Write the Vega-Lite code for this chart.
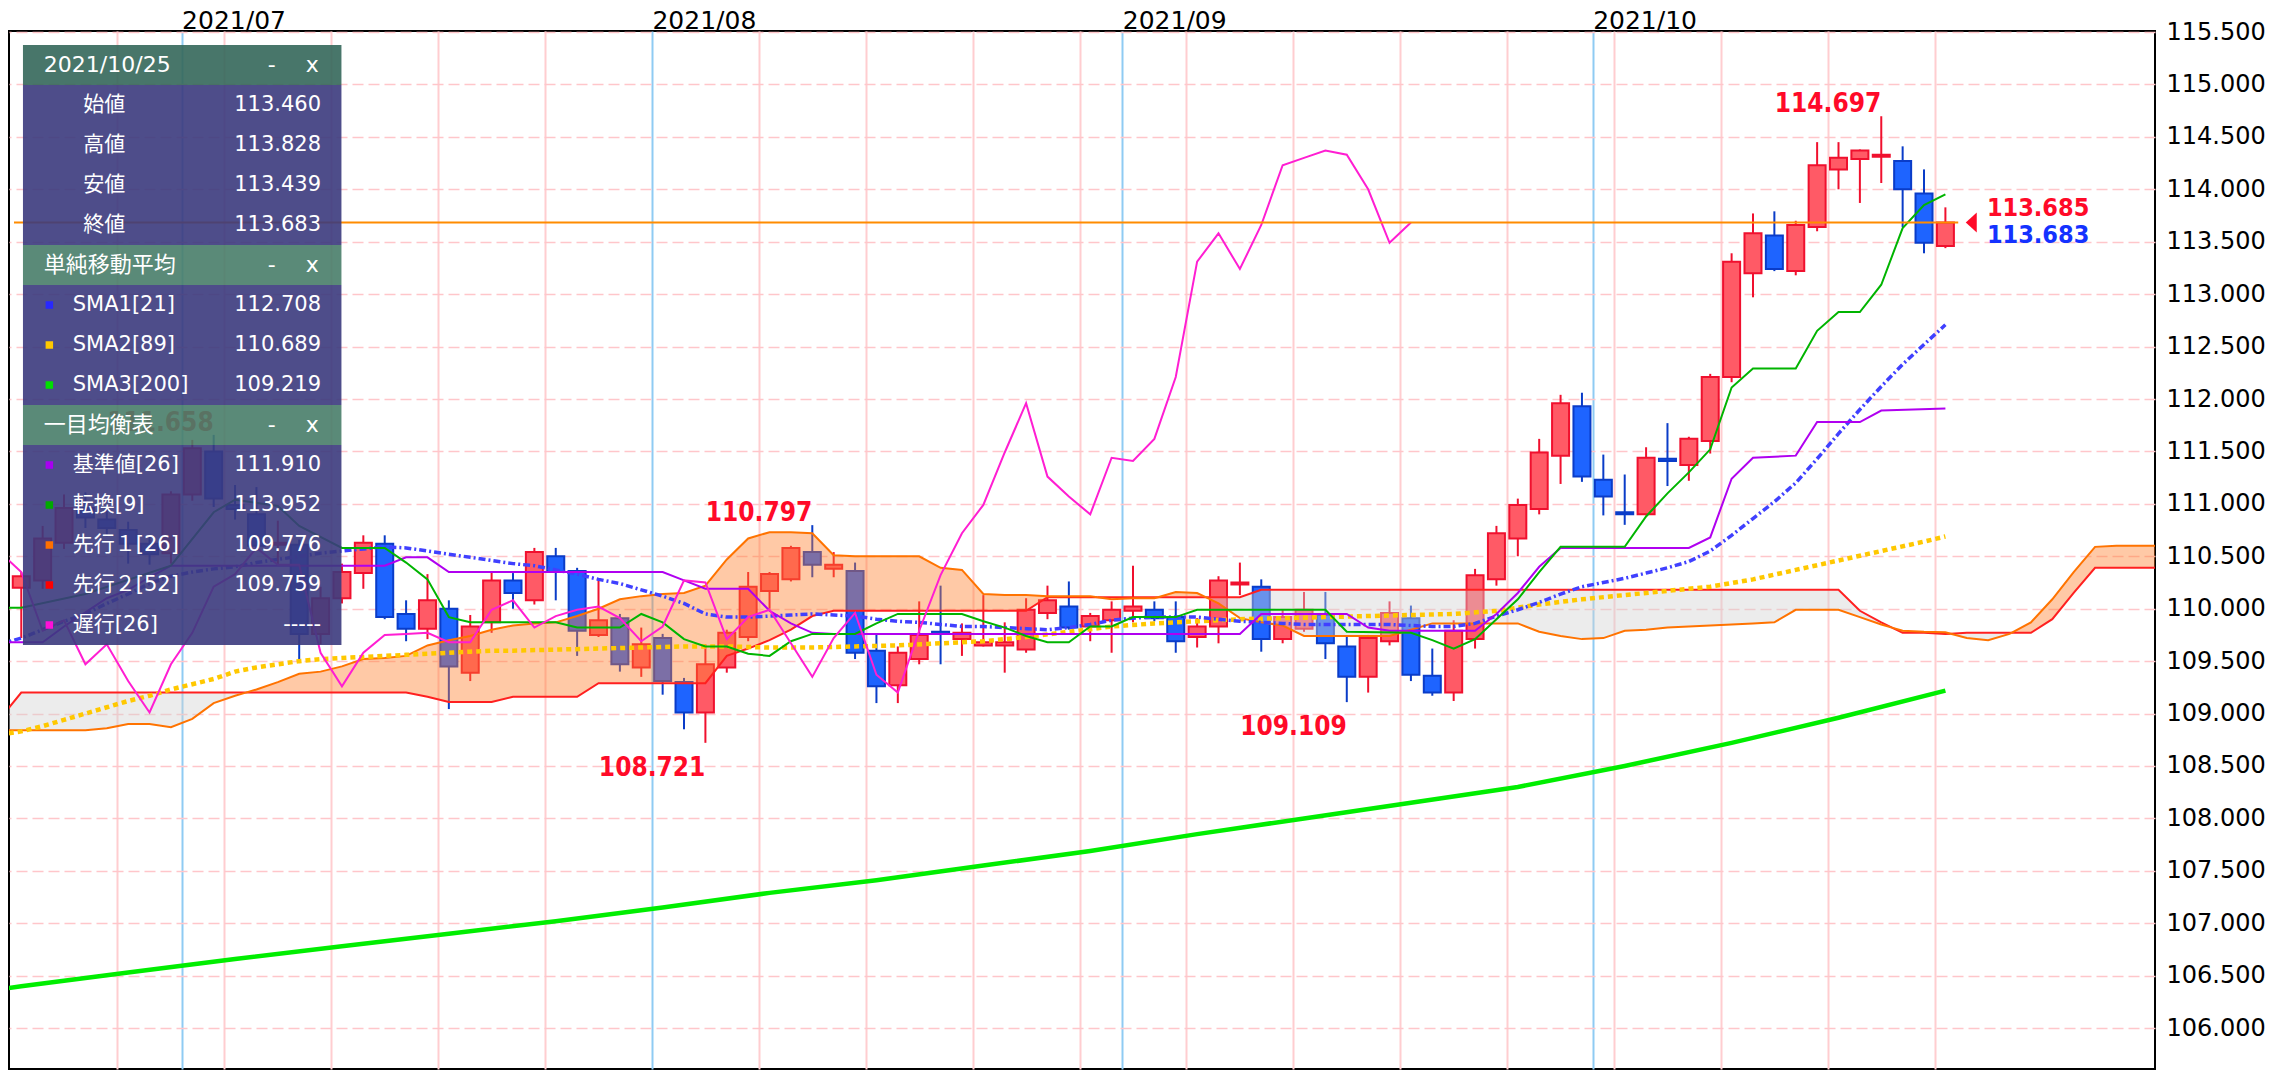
{
  "$schema": "https://vega.github.io/schema/vega-lite/v6.json",
  "width": 2146,
  "height": 1038,
  "autosize": {"type": "none"},
  "padding": {"left": 9, "top": 31, "right": 133, "bottom": 11},
  "background": "#ffffff",
  "config": {
    "view": {"stroke": "#000000", "strokeWidth": 2},
    "font": "DejaVu Sans"
  },
  "datasets": {
    "candles": [
      {"d":"2021-06-21","i":-5,"o":110.20,"h":110.35,"l":109.72,"c":110.31},
      {"d":"2021-06-22","i":-4,"o":110.27,"h":110.79,"l":110.19,"c":110.67},
      {"d":"2021-06-23","i":-3,"o":110.63,"h":111.09,"l":110.57,"c":110.96},
      {"d":"2021-06-24","i":-2,"o":110.96,"h":111.11,"l":110.77,"c":110.87},
      {"d":"2021-06-25","i":-1,"o":110.85,"h":110.96,"l":110.69,"c":110.77},
      {"d":"2021-06-28","i":0,"o":110.75,"h":110.83,"l":110.43,"c":110.62},
      {"d":"2021-06-29","i":1,"o":110.62,"h":110.70,"l":110.42,"c":110.52},
      {"d":"2021-06-30","i":2,"o":110.53,"h":111.12,"l":110.43,"c":111.09},
      {"d":"2021-07-01","i":3,"o":111.09,"h":111.61,"l":111.03,"c":111.53},
      {"d":"2021-07-02","i":4,"o":111.50,"h":111.658,"l":110.97,"c":111.05},
      {"d":"2021-07-05","i":5,"o":110.99,"h":111.18,"l":110.85,"c":110.95},
      {"d":"2021-07-06","i":6,"o":110.90,"h":111.16,"l":110.55,"c":110.60},
      {"d":"2021-07-07","i":7,"o":110.61,"h":110.84,"l":110.42,"c":110.63},
      {"d":"2021-07-08","i":8,"o":110.61,"h":110.66,"l":109.52,"c":109.76},
      {"d":"2021-07-09","i":9,"o":109.76,"h":110.21,"l":109.66,"c":110.10},
      {"d":"2021-07-12","i":10,"o":110.10,"h":110.43,"l":110.05,"c":110.35},
      {"d":"2021-07-13","i":11,"o":110.34,"h":110.70,"l":110.19,"c":110.63},
      {"d":"2021-07-14","i":12,"o":110.62,"h":110.70,"l":109.90,"c":109.92},
      {"d":"2021-07-15","i":13,"o":109.95,"h":110.08,"l":109.69,"c":109.81},
      {"d":"2021-07-16","i":14,"o":109.81,"h":110.33,"l":109.71,"c":110.08},
      {"d":"2021-07-19","i":15,"o":110.00,"h":110.08,"l":109.043,"c":109.45},
      {"d":"2021-07-20","i":16,"o":109.39,"h":109.94,"l":109.31,"c":109.83},
      {"d":"2021-07-21","i":17,"o":109.87,"h":110.36,"l":109.77,"c":110.27},
      {"d":"2021-07-22","i":18,"o":110.27,"h":110.34,"l":110.00,"c":110.15},
      {"d":"2021-07-23","i":19,"o":110.08,"h":110.58,"l":110.04,"c":110.54},
      {"d":"2021-07-26","i":20,"o":110.50,"h":110.58,"l":110.08,"c":110.35},
      {"d":"2021-07-27","i":21,"o":110.36,"h":110.39,"l":109.55,"c":109.79},
      {"d":"2021-07-28","i":22,"o":109.75,"h":110.28,"l":109.73,"c":109.89},
      {"d":"2021-07-29","i":23,"o":109.91,"h":109.95,"l":109.40,"c":109.47},
      {"d":"2021-07-30","i":24,"o":109.44,"h":109.82,"l":109.35,"c":109.66},
      {"d":"2021-08-02","i":25,"o":109.72,"h":109.76,"l":109.18,"c":109.31},
      {"d":"2021-08-03","i":26,"o":109.30,"h":109.34,"l":108.85,"c":109.01},
      {"d":"2021-08-04","i":27,"o":109.01,"h":109.66,"l":108.721,"c":109.47},
      {"d":"2021-08-05","i":28,"o":109.44,"h":109.80,"l":109.39,"c":109.77},
      {"d":"2021-08-06","i":29,"o":109.73,"h":110.35,"l":109.69,"c":110.21},
      {"d":"2021-08-09","i":30,"o":110.17,"h":110.35,"l":110.00,"c":110.33},
      {"d":"2021-08-10","i":31,"o":110.28,"h":110.60,"l":110.26,"c":110.58},
      {"d":"2021-08-11","i":32,"o":110.54,"h":110.797,"l":110.30,"c":110.42},
      {"d":"2021-08-12","i":33,"o":110.38,"h":110.54,"l":110.30,"c":110.42},
      {"d":"2021-08-13","i":34,"o":110.36,"h":110.44,"l":109.52,"c":109.58},
      {"d":"2021-08-16","i":35,"o":109.60,"h":109.75,"l":109.10,"c":109.26},
      {"d":"2021-08-17","i":36,"o":109.27,"h":109.64,"l":109.10,"c":109.58},
      {"d":"2021-08-18","i":37,"o":109.52,"h":110.07,"l":109.47,"c":109.75},
      {"d":"2021-08-19","i":38,"o":109.78,"h":110.22,"l":109.47,"c":109.76},
      {"d":"2021-08-20","i":39,"o":109.71,"h":109.86,"l":109.55,"c":109.77},
      {"d":"2021-08-23","i":40,"o":109.65,"h":110.13,"l":109.64,"c":109.68},
      {"d":"2021-08-24","i":41,"o":109.65,"h":109.87,"l":109.39,"c":109.68},
      {"d":"2021-08-25","i":42,"o":109.61,"h":110.10,"l":109.58,"c":109.99},
      {"d":"2021-08-26","i":43,"o":109.96,"h":110.22,"l":109.90,"c":110.08},
      {"d":"2021-08-27","i":44,"o":110.02,"h":110.26,"l":109.80,"c":109.82},
      {"d":"2021-08-30","i":45,"o":109.83,"h":109.96,"l":109.69,"c":109.93},
      {"d":"2021-08-31","i":46,"o":109.89,"h":110.07,"l":109.58,"c":109.99},
      {"d":"2021-09-01","i":47,"o":109.98,"h":110.41,"l":109.87,"c":110.02},
      {"d":"2021-09-02","i":48,"o":109.99,"h":110.07,"l":109.88,"c":109.91},
      {"d":"2021-09-03","i":49,"o":109.92,"h":110.07,"l":109.58,"c":109.69},
      {"d":"2021-09-06","i":50,"o":109.73,"h":109.91,"l":109.63,"c":109.83},
      {"d":"2021-09-07","i":51,"o":109.83,"h":110.31,"l":109.67,"c":110.27},
      {"d":"2021-09-08","i":52,"o":110.23,"h":110.44,"l":110.13,"c":110.25},
      {"d":"2021-09-09","i":53,"o":110.21,"h":110.28,"l":109.59,"c":109.71},
      {"d":"2021-09-10","i":54,"o":109.71,"h":109.99,"l":109.67,"c":109.92},
      {"d":"2021-09-13","i":55,"o":109.81,"h":110.16,"l":109.78,"c":109.99},
      {"d":"2021-09-14","i":56,"o":109.94,"h":110.16,"l":109.52,"c":109.67},
      {"d":"2021-09-15","i":57,"o":109.64,"h":109.74,"l":109.109,"c":109.35},
      {"d":"2021-09-16","i":58,"o":109.35,"h":109.75,"l":109.20,"c":109.72},
      {"d":"2021-09-17","i":59,"o":109.69,"h":110.07,"l":109.65,"c":109.96},
      {"d":"2021-09-20","i":60,"o":109.91,"h":110.03,"l":109.31,"c":109.37},
      {"d":"2021-09-21","i":61,"o":109.36,"h":109.62,"l":109.17,"c":109.20},
      {"d":"2021-09-22","i":62,"o":109.20,"h":109.89,"l":109.12,"c":109.79},
      {"d":"2021-09-23","i":63,"o":109.71,"h":110.38,"l":109.62,"c":110.32},
      {"d":"2021-09-24","i":64,"o":110.28,"h":110.79,"l":110.22,"c":110.72},
      {"d":"2021-09-27","i":65,"o":110.67,"h":111.05,"l":110.50,"c":110.99},
      {"d":"2021-09-28","i":66,"o":110.95,"h":111.62,"l":110.90,"c":111.49},
      {"d":"2021-09-29","i":67,"o":111.46,"h":112.04,"l":111.19,"c":111.96},
      {"d":"2021-09-30","i":68,"o":111.93,"h":112.06,"l":111.21,"c":111.26},
      {"d":"2021-10-01","i":69,"o":111.23,"h":111.47,"l":110.89,"c":111.07},
      {"d":"2021-10-04","i":70,"o":110.92,"h":111.28,"l":110.80,"c":110.90},
      {"d":"2021-10-05","i":71,"o":110.90,"h":111.54,"l":110.89,"c":111.44},
      {"d":"2021-10-06","i":72,"o":111.43,"h":111.77,"l":111.17,"c":111.41},
      {"d":"2021-10-07","i":73,"o":111.37,"h":111.64,"l":111.22,"c":111.62},
      {"d":"2021-10-08","i":74,"o":111.60,"h":112.24,"l":111.48,"c":112.21},
      {"d":"2021-10-11","i":75,"o":112.21,"h":113.39,"l":112.16,"c":113.31},
      {"d":"2021-10-12","i":76,"o":113.20,"h":113.77,"l":112.97,"c":113.58},
      {"d":"2021-10-13","i":77,"o":113.56,"h":113.79,"l":113.22,"c":113.24},
      {"d":"2021-10-14","i":78,"o":113.22,"h":113.70,"l":113.18,"c":113.66},
      {"d":"2021-10-15","i":79,"o":113.64,"h":114.45,"l":113.60,"c":114.23},
      {"d":"2021-10-18","i":80,"o":114.19,"h":114.45,"l":114.00,"c":114.30},
      {"d":"2021-10-19","i":81,"o":114.29,"h":114.38,"l":113.87,"c":114.37},
      {"d":"2021-10-20","i":82,"o":114.31,"h":114.697,"l":114.06,"c":114.33},
      {"d":"2021-10-21","i":83,"o":114.27,"h":114.41,"l":113.64,"c":114.00},
      {"d":"2021-10-22","i":84,"o":113.96,"h":114.19,"l":113.39,"c":113.49},
      {"d":"2021-10-25","i":85,"o":113.46,"h":113.828,"l":113.439,"c":113.683}
    ],
    "kumo": [
      {"i":-6,"a":108.84,"b":108.95,"seg":"g1","kind":"down"},
      {"i":-5,"a":108.84,"b":109.20,"seg":"g1","kind":"down"},
      {"i":-4,"a":108.84,"b":109.20,"seg":"g1","kind":"down"},
      {"i":-3,"a":108.84,"b":109.20,"seg":"g1","kind":"down"},
      {"i":-2,"a":108.84,"b":109.20,"seg":"g1","kind":"down"},
      {"i":-1,"a":108.86,"b":109.20,"seg":"g1","kind":"down"},
      {"i":0,"a":108.90,"b":109.20,"seg":"g1","kind":"down"},
      {"i":1,"a":108.90,"b":109.20,"seg":"g1","kind":"down"},
      {"i":2,"a":108.87,"b":109.20,"seg":"g1","kind":"down"},
      {"i":3,"a":108.95,"b":109.20,"seg":"g1","kind":"down"},
      {"i":4,"a":109.10,"b":109.20,"seg":"g1","kind":"down"},
      {"i":5,"a":109.17,"b":109.20,"seg":"g1","kind":"down"},
      {"i":5.5,"a":109.20,"b":109.20,"seg":"g1","kind":"down"},
      {"i":5.5,"a":109.20,"b":109.20,"seg":"o1","kind":"up"},
      {"i":6,"a":109.23,"b":109.20,"seg":"o1","kind":"up"},
      {"i":7,"a":109.30,"b":109.20,"seg":"o1","kind":"up"},
      {"i":8,"a":109.38,"b":109.20,"seg":"o1","kind":"up"},
      {"i":9,"a":109.40,"b":109.20,"seg":"o1","kind":"up"},
      {"i":10,"a":109.45,"b":109.20,"seg":"o1","kind":"up"},
      {"i":11,"a":109.52,"b":109.20,"seg":"o1","kind":"up"},
      {"i":12,"a":109.53,"b":109.20,"seg":"o1","kind":"up"},
      {"i":13,"a":109.55,"b":109.20,"seg":"o1","kind":"up"},
      {"i":14,"a":109.65,"b":109.16,"seg":"o1","kind":"up"},
      {"i":15,"a":109.70,"b":109.11,"seg":"o1","kind":"up"},
      {"i":16,"a":109.74,"b":109.11,"seg":"o1","kind":"up"},
      {"i":17,"a":109.80,"b":109.11,"seg":"o1","kind":"up"},
      {"i":18,"a":109.84,"b":109.16,"seg":"o1","kind":"up"},
      {"i":19,"a":109.86,"b":109.16,"seg":"o1","kind":"up"},
      {"i":20,"a":109.87,"b":109.16,"seg":"o1","kind":"up"},
      {"i":21,"a":109.93,"b":109.16,"seg":"o1","kind":"up"},
      {"i":22,"a":110.00,"b":109.29,"seg":"o1","kind":"up"},
      {"i":23,"a":110.09,"b":109.29,"seg":"o1","kind":"up"},
      {"i":24,"a":110.12,"b":109.29,"seg":"o1","kind":"up"},
      {"i":25,"a":110.14,"b":109.29,"seg":"o1","kind":"up"},
      {"i":26,"a":110.15,"b":109.29,"seg":"o1","kind":"up"},
      {"i":27,"a":110.22,"b":109.29,"seg":"o1","kind":"up"},
      {"i":28,"a":110.47,"b":109.55,"seg":"o1","kind":"up"},
      {"i":29,"a":110.67,"b":109.62,"seg":"o1","kind":"up"},
      {"i":30,"a":110.73,"b":109.70,"seg":"o1","kind":"up"},
      {"i":31,"a":110.73,"b":109.80,"seg":"o1","kind":"up"},
      {"i":32,"a":110.72,"b":109.93,"seg":"o1","kind":"up"},
      {"i":33,"a":110.51,"b":109.98,"seg":"o1","kind":"up"},
      {"i":34,"a":110.50,"b":109.98,"seg":"o1","kind":"up"},
      {"i":35,"a":110.50,"b":109.98,"seg":"o1","kind":"up"},
      {"i":36,"a":110.50,"b":109.98,"seg":"o1","kind":"up"},
      {"i":37,"a":110.50,"b":109.98,"seg":"o1","kind":"up"},
      {"i":38,"a":110.39,"b":109.98,"seg":"o1","kind":"up"},
      {"i":39,"a":110.37,"b":109.98,"seg":"o1","kind":"up"},
      {"i":40,"a":110.14,"b":109.98,"seg":"o1","kind":"up"},
      {"i":41,"a":110.13,"b":109.98,"seg":"o1","kind":"up"},
      {"i":42,"a":110.13,"b":109.98,"seg":"o1","kind":"up"},
      {"i":43,"a":110.12,"b":110.11,"seg":"o1","kind":"up"},
      {"i":44,"a":110.12,"b":110.11,"seg":"o1","kind":"up"},
      {"i":45,"a":110.12,"b":110.11,"seg":"o1","kind":"up"},
      {"i":45.33,"a":110.11,"b":110.11,"seg":"o1","kind":"up"},
      {"i":45.33,"a":110.11,"b":110.11,"seg":"g2","kind":"down"},
      {"i":46,"a":110.09,"b":110.11,"seg":"g2","kind":"down"},
      {"i":47,"a":110.10,"b":110.11,"seg":"g2","kind":"down"},
      {"i":48,"a":110.10,"b":110.11,"seg":"g2","kind":"down"},
      {"i":48.17,"a":110.11,"b":110.11,"seg":"g2","kind":"down"},
      {"i":48.17,"a":110.11,"b":110.11,"seg":"o2","kind":"up"},
      {"i":49,"a":110.16,"b":110.11,"seg":"o2","kind":"up"},
      {"i":50,"a":110.15,"b":110.11,"seg":"o2","kind":"up"},
      {"i":50.4,"a":110.11,"b":110.11,"seg":"o2","kind":"up"},
      {"i":50.4,"a":110.11,"b":110.11,"seg":"g3","kind":"down"},
      {"i":51,"a":110.05,"b":110.11,"seg":"g3","kind":"down"},
      {"i":52,"a":109.91,"b":110.11,"seg":"g3","kind":"down"},
      {"i":53,"a":109.87,"b":110.18,"seg":"g3","kind":"down"},
      {"i":54,"a":109.84,"b":110.18,"seg":"g3","kind":"down"},
      {"i":55,"a":109.74,"b":110.18,"seg":"g3","kind":"down"},
      {"i":56,"a":109.74,"b":110.18,"seg":"g3","kind":"down"},
      {"i":57,"a":109.74,"b":110.18,"seg":"g3","kind":"down"},
      {"i":58,"a":109.74,"b":110.18,"seg":"g3","kind":"down"},
      {"i":59,"a":109.74,"b":110.18,"seg":"g3","kind":"down"},
      {"i":60,"a":109.80,"b":110.18,"seg":"g3","kind":"down"},
      {"i":61,"a":109.86,"b":110.18,"seg":"g3","kind":"down"},
      {"i":62,"a":109.86,"b":110.18,"seg":"g3","kind":"down"},
      {"i":63,"a":109.86,"b":110.18,"seg":"g3","kind":"down"},
      {"i":64,"a":109.86,"b":110.18,"seg":"g3","kind":"down"},
      {"i":65,"a":109.86,"b":110.18,"seg":"g3","kind":"down"},
      {"i":66,"a":109.78,"b":110.18,"seg":"g3","kind":"down"},
      {"i":67,"a":109.74,"b":110.18,"seg":"g3","kind":"down"},
      {"i":68,"a":109.71,"b":110.18,"seg":"g3","kind":"down"},
      {"i":69,"a":109.72,"b":110.18,"seg":"g3","kind":"down"},
      {"i":70,"a":109.79,"b":110.18,"seg":"g3","kind":"down"},
      {"i":71,"a":109.80,"b":110.18,"seg":"g3","kind":"down"},
      {"i":72,"a":109.82,"b":110.18,"seg":"g3","kind":"down"},
      {"i":73,"a":109.83,"b":110.18,"seg":"g3","kind":"down"},
      {"i":74,"a":109.84,"b":110.18,"seg":"g3","kind":"down"},
      {"i":75,"a":109.85,"b":110.18,"seg":"g3","kind":"down"},
      {"i":76,"a":109.86,"b":110.18,"seg":"g3","kind":"down"},
      {"i":77,"a":109.87,"b":110.18,"seg":"g3","kind":"down"},
      {"i":78,"a":109.99,"b":110.18,"seg":"g3","kind":"down"},
      {"i":79,"a":109.99,"b":110.18,"seg":"g3","kind":"down"},
      {"i":80,"a":109.99,"b":110.18,"seg":"g3","kind":"down"},
      {"i":81,"a":109.92,"b":109.98,"seg":"g3","kind":"down"},
      {"i":82,"a":109.85,"b":109.87,"seg":"g3","kind":"down"},
      {"i":82.5,"a":109.82,"b":109.82,"seg":"g3","kind":"down"},
      {"i":82.5,"a":109.82,"b":109.82,"seg":"o3","kind":"up"},
      {"i":83,"a":109.79,"b":109.77,"seg":"o3","kind":"up"},
      {"i":84,"a":109.78,"b":109.77,"seg":"o3","kind":"up"},
      {"i":85,"a":109.776,"b":109.759,"seg":"o3","kind":"up"},
      {"i":85.25,"a":109.762,"b":109.762,"seg":"o3","kind":"up"},
      {"i":85.25,"a":109.762,"b":109.762,"seg":"g4","kind":"down"},
      {"i":86,"a":109.72,"b":109.77,"seg":"g4","kind":"down"},
      {"i":87,"a":109.70,"b":109.77,"seg":"g4","kind":"down"},
      {"i":88,"a":109.76,"b":109.77,"seg":"g4","kind":"down"},
      {"i":88.09,"a":109.77,"b":109.77,"seg":"g4","kind":"down"},
      {"i":88.09,"a":109.77,"b":109.77,"seg":"o4","kind":"up"},
      {"i":89,"a":109.87,"b":109.77,"seg":"o4","kind":"up"},
      {"i":90,"a":110.09,"b":109.90,"seg":"o4","kind":"up"},
      {"i":91,"a":110.35,"b":110.15,"seg":"o4","kind":"up"},
      {"i":92,"a":110.59,"b":110.39,"seg":"o4","kind":"up"},
      {"i":93,"a":110.60,"b":110.39,"seg":"o4","kind":"up"},
      {"i":94,"a":110.60,"b":110.39,"seg":"o4","kind":"up"},
      {"i":95,"a":110.60,"b":110.39,"seg":"o4","kind":"up"}
    ],
    "sma1": [
      {"i":-6,"v":109.66},{"i":-5,"v":109.72},{"i":-4,"v":109.80},{"i":-3,"v":109.88},{"i":-2,"v":109.95},
      {"i":-1,"v":110.05},{"i":0,"v":110.14},{"i":1,"v":110.24},{"i":2,"v":110.31},{"i":3,"v":110.35},
      {"i":4,"v":110.38},{"i":5,"v":110.40},{"i":6,"v":110.44},{"i":7,"v":110.47},{"i":8,"v":110.50},
      {"i":9,"v":110.53},{"i":10,"v":110.55},{"i":11,"v":110.57},{"i":12,"v":110.59},{"i":13,"v":110.58},
      {"i":14,"v":110.55},{"i":15,"v":110.52},{"i":16,"v":110.49},{"i":17,"v":110.46},{"i":18,"v":110.43},
      {"i":19,"v":110.41},{"i":20,"v":110.37},{"i":21,"v":110.33},{"i":22,"v":110.28},{"i":23,"v":110.24},
      {"i":24,"v":110.18},{"i":25,"v":110.12},{"i":26,"v":110.05},{"i":27,"v":109.95},{"i":28,"v":109.92},
      {"i":29,"v":109.92},{"i":30,"v":109.93},{"i":31,"v":109.94},{"i":32,"v":109.95},{"i":33,"v":109.94},
      {"i":34,"v":109.93},{"i":35,"v":109.90},{"i":36,"v":109.88},{"i":37,"v":109.87},{"i":38,"v":109.85},
      {"i":39,"v":109.83},{"i":40,"v":109.83},{"i":41,"v":109.82},{"i":42,"v":109.81},{"i":43,"v":109.80},
      {"i":44,"v":109.82},{"i":45,"v":109.85},{"i":46,"v":109.89},{"i":47,"v":109.91},{"i":48,"v":109.92},
      {"i":49,"v":109.92},{"i":50,"v":109.92},{"i":51,"v":109.90},{"i":52,"v":109.88},{"i":53,"v":109.87},
      {"i":54,"v":109.86},{"i":55,"v":109.85},{"i":56,"v":109.85},{"i":57,"v":109.85},{"i":58,"v":109.85},
      {"i":59,"v":109.85},{"i":60,"v":109.84},{"i":61,"v":109.83},{"i":62,"v":109.83},{"i":63,"v":109.86},
      {"i":64,"v":109.93},{"i":65,"v":109.99},{"i":66,"v":110.06},{"i":67,"v":110.14},{"i":68,"v":110.21},
      {"i":69,"v":110.25},{"i":70,"v":110.29},{"i":71,"v":110.34},{"i":72,"v":110.39},{"i":73,"v":110.45},
      {"i":74,"v":110.55},{"i":75,"v":110.70},{"i":76,"v":110.86},{"i":77,"v":111.02},{"i":78,"v":111.20},
      {"i":79,"v":111.43},{"i":80,"v":111.67},{"i":81,"v":111.90},{"i":82,"v":112.12},{"i":83,"v":112.33},
      {"i":84,"v":112.52},{"i":85,"v":112.708}
    ],
    "sma2": [
      {"i":-6,"v":108.80},{"i":-5,"v":108.83},{"i":-4,"v":108.88},{"i":-3,"v":108.94},{"i":-2,"v":109.00},
      {"i":-1,"v":109.06},{"i":0,"v":109.12},{"i":1,"v":109.17},{"i":2,"v":109.23},{"i":3,"v":109.28},
      {"i":4,"v":109.33},{"i":5,"v":109.40},{"i":6,"v":109.44},{"i":7,"v":109.47},{"i":8,"v":109.50},
      {"i":9,"v":109.52},{"i":10,"v":109.53},{"i":11,"v":109.54},{"i":12,"v":109.55},{"i":13,"v":109.56},
      {"i":14,"v":109.57},{"i":15,"v":109.58},{"i":16,"v":109.59},{"i":17,"v":109.60},{"i":18,"v":109.60},
      {"i":20,"v":109.61},{"i":22,"v":109.62},{"i":24,"v":109.63},{"i":26,"v":109.64},{"i":28,"v":109.64},
      {"i":30,"v":109.63},{"i":32,"v":109.63},{"i":34,"v":109.64},{"i":36,"v":109.65},{"i":38,"v":109.67},
      {"i":40,"v":109.69},{"i":42,"v":109.73},{"i":44,"v":109.78},{"i":46,"v":109.83},{"i":48,"v":109.86},
      {"i":50,"v":109.88},{"i":52,"v":109.90},{"i":54,"v":109.91},{"i":56,"v":109.92},{"i":58,"v":109.93},
      {"i":60,"v":109.94},{"i":62,"v":109.95},{"i":64,"v":109.98},{"i":66,"v":110.04},{"i":68,"v":110.09},
      {"i":70,"v":110.13},{"i":72,"v":110.17},{"i":74,"v":110.21},{"i":76,"v":110.28},{"i":78,"v":110.37},
      {"i":80,"v":110.46},{"i":82,"v":110.55},{"i":84,"v":110.64},{"i":85,"v":110.689}
    ],
    "sma3": [
      {"i":-6,"v":106.37},{"i":-5,"v":106.40},{"i":0,"v":106.53},{"i":5,"v":106.66},{"i":10,"v":106.78},
      {"i":15,"v":106.90},{"i":20,"v":107.02},{"i":25,"v":107.15},{"i":30,"v":107.29},{"i":35,"v":107.41},
      {"i":40,"v":107.55},{"i":45,"v":107.69},{"i":50,"v":107.85},{"i":55,"v":108.00},{"i":60,"v":108.15},
      {"i":65,"v":108.30},{"i":70,"v":108.50},{"i":75,"v":108.72},{"i":80,"v":108.96},{"i":85,"v":109.219}
    ],
    "tenkan": [
      {"i":-6,"v":110.01},{"i":-5,"v":110.01},{"i":-2,"v":110.14},{"i":2,"v":110.41},{"i":4,"v":110.92},
      {"i":5,"v":111.04},{"i":7,"v":110.98},{"i":8,"v":110.79},{"i":10,"v":110.58},{"i":12,"v":110.58},
      {"i":13,"v":110.44},{"i":14,"v":110.28},{"i":15,"v":109.92},{"i":16,"v":109.87},{"i":20,"v":109.87},
      {"i":21,"v":109.82},{"i":23,"v":109.82},{"i":24,"v":109.95},{"i":25,"v":109.87},{"i":26,"v":109.71},
      {"i":27,"v":109.64},{"i":28,"v":109.64},{"i":29,"v":109.57},{"i":30,"v":109.55},{"i":31,"v":109.69},
      {"i":32,"v":109.76},{"i":34,"v":109.76},{"i":35,"v":109.86},{"i":36,"v":109.95},{"i":39,"v":109.95},
      {"i":40,"v":109.88},{"i":41,"v":109.82},{"i":42,"v":109.74},{"i":43,"v":109.68},{"i":44,"v":109.68},
      {"i":45,"v":109.83},{"i":46,"v":109.83},{"i":47,"v":109.92},{"i":49,"v":109.92},{"i":50,"v":109.99},
      {"i":56,"v":109.99},{"i":57,"v":109.78},{"i":60,"v":109.77},{"i":61,"v":109.70},{"i":62,"v":109.62},
      {"i":63,"v":109.71},{"i":64,"v":109.90},{"i":65,"v":110.09},{"i":66,"v":110.35},{"i":67,"v":110.59},
      {"i":70,"v":110.59},{"i":71,"v":110.88},{"i":72,"v":111.10},{"i":73,"v":111.30},{"i":74,"v":111.52},
      {"i":75,"v":112.11},{"i":76,"v":112.29},{"i":78,"v":112.29},{"i":79,"v":112.65},{"i":80,"v":112.83},
      {"i":81,"v":112.83},{"i":82,"v":113.09},{"i":83,"v":113.63},{"i":84,"v":113.85},{"i":85,"v":113.952}
    ],
    "kijun": [
      {"i":-6,"v":109.68},{"i":-4,"v":109.68},{"i":-3,"v":109.83},{"i":-1,"v":110.10},{"i":0,"v":110.18},
      {"i":1,"v":110.30},{"i":2,"v":110.41},{"i":12,"v":110.41},{"i":13,"v":110.49},{"i":14,"v":110.49},
      {"i":15,"v":110.35},{"i":25,"v":110.35},{"i":26,"v":110.27},{"i":27,"v":110.19},{"i":29,"v":110.19},
      {"i":30,"v":109.98},{"i":31,"v":109.86},{"i":32,"v":109.77},{"i":33,"v":109.76},{"i":52,"v":109.76},
      {"i":53,"v":109.95},{"i":57,"v":109.95},{"i":58,"v":109.82},{"i":59,"v":109.79},{"i":63,"v":109.79},
      {"i":64,"v":109.95},{"i":65,"v":110.15},{"i":66,"v":110.40},{"i":67,"v":110.58},{"i":73,"v":110.58},
      {"i":74,"v":110.68},{"i":75,"v":111.24},{"i":76,"v":111.44},{"i":78,"v":111.46},{"i":79,"v":111.78},
      {"i":81,"v":111.78},{"i":82,"v":111.89},{"i":85,"v":111.91}
    ],
    "chikou": [
      {"i":-6,"v":110.54},{"i":-5,"v":110.35},{"i":-4,"v":109.79},{"i":-3,"v":109.89},{"i":-2,"v":109.47},
      {"i":-1,"v":109.66},{"i":0,"v":109.31},{"i":1,"v":109.01},{"i":2,"v":109.47},{"i":3,"v":109.77},
      {"i":4,"v":110.21},{"i":5,"v":110.33},{"i":6,"v":110.58},{"i":7,"v":110.42},{"i":8,"v":110.42},
      {"i":9,"v":109.58},{"i":10,"v":109.26},{"i":11,"v":109.58},{"i":12,"v":109.75},{"i":13,"v":109.76},
      {"i":14,"v":109.77},{"i":15,"v":109.68},{"i":16,"v":109.68},{"i":17,"v":109.99},{"i":18,"v":110.08},
      {"i":19,"v":109.82},{"i":20,"v":109.93},{"i":21,"v":109.99},{"i":22,"v":110.02},{"i":23,"v":109.91},
      {"i":24,"v":109.69},{"i":25,"v":109.83},{"i":26,"v":110.27},{"i":27,"v":110.25},{"i":28,"v":109.71},
      {"i":29,"v":109.92},{"i":30,"v":109.99},{"i":31,"v":109.67},{"i":32,"v":109.35},{"i":33,"v":109.72},
      {"i":34,"v":109.96},{"i":35,"v":109.37},{"i":36,"v":109.20},{"i":37,"v":109.79},{"i":38,"v":110.32},
      {"i":39,"v":110.72},{"i":40,"v":110.99},{"i":41,"v":111.49},{"i":42,"v":111.96},{"i":43,"v":111.26},
      {"i":44,"v":111.07},{"i":45,"v":110.90},{"i":46,"v":111.44},{"i":47,"v":111.41},{"i":48,"v":111.62},
      {"i":49,"v":112.21},{"i":50,"v":113.31},{"i":51,"v":113.58},{"i":52,"v":113.24},{"i":53,"v":113.66},
      {"i":54,"v":114.23},{"i":55,"v":114.30},{"i":56,"v":114.37},{"i":57,"v":114.33},{"i":58,"v":114.00},
      {"i":59,"v":113.49},{"i":60,"v":113.683}
    ],
    "extremes": [
      {"i":4,"v":111.658,"kind":"high"},
      {"i":32,"v":110.797,"kind":"high"},
      {"i":82,"v":114.697,"kind":"high"},
      {"i":27,"v":108.721,"kind":"low"},
      {"i":57,"v":109.109,"kind":"low"}
    ],
    "quote": [
      {"side":"ask","price":113.685},
      {"side":"bid","price":113.683}
    ],
    "panel": [
      {"row":"h1","kind":"title","label":"2021/10/25"},
      {"row":"o","kind":"ohlc","label":"始値","value":"113.460"},
      {"row":"h","kind":"ohlc","label":"高値","value":"113.828"},
      {"row":"l","kind":"ohlc","label":"安値","value":"113.439"},
      {"row":"c","kind":"ohlc","label":"終値","value":"113.683"},
      {"row":"h2","kind":"header","label":"単純移動平均"},
      {"row":"s1","kind":"item","label":"SMA1[21]","value":"112.708"},
      {"row":"s2","kind":"item","label":"SMA2[89]","value":"110.689"},
      {"row":"s3","kind":"item","label":"SMA3[200]","value":"109.219"},
      {"row":"h3","kind":"header","label":"一目均衡表"},
      {"row":"k","kind":"item","label":"基準値[26]","value":"111.910"},
      {"row":"t","kind":"item","label":"転換[9]","value":"113.952"},
      {"row":"a","kind":"item","label":"先行１[26]","value":"109.776"},
      {"row":"b","kind":"item","label":"先行２[52]","value":"109.759"},
      {"row":"ch","kind":"item","label":"遅行[26]","value":"-----"}
    ]
  },
  "resolve": {"scale": {"y": "independent", "fill": "independent", "color": "independent", "stroke": "independent"}, "axis": {"x": "independent"}},
  "layer": [
    {
      "data": {"name": "candles"},
      "mark": {"type": "rule", "strokeWidth": 2, "clip": true},
      "encoding": {
        "x": {
          "field": "i", "type": "quantitative",
          "scale": {"domain": [-5.34, 94.57], "nice": false, "zero": false},
          "axis": {
            "orient": "top",
            "values": [-0.5, 2.5, 4.5, 9.5, 14.5, 19.5, 24.5, 29.5, 34.5, 39.5, 44.5, 46.5, 49.5, 54.5, 59.5, 64.5, 68.5, 69.5, 74.5, 79.5, 84.5],
            "labelExpr": "datum.value == 2.5 ? '2021/07' : datum.value == 24.5 ? '2021/08' : datum.value == 46.5 ? '2021/09' : datum.value == 68.5 ? '2021/10' : ''",
            "grid": true,
            "gridColor": {"condition": {"test": "datum.value == 2.5 || datum.value == 24.5 || datum.value == 46.5 || datum.value == 68.5", "value": "#8fcbf3"}, "value": "#ffcdd0"},
            "gridWidth": 2,
            "ticks": false, "domain": false,
            "labelAlign": "left", "labelDx": -6, "labelBaseline": "alphabetic", "labelPadding": 3,
            "labelFontSize": 25, "labelColor": "#000000", "labelFont": "DejaVu Sans",
            "labelOverlap": false, "labelBound": false, "labelFlush": false,
            "title": null
          }
        },
        "y": {
          "field": "l", "type": "quantitative",
          "scale": {"domain": [105.61, 115.51], "nice": false, "zero": false},
          "axis": {
            "orient": "right",
            "values": [106, 106.5, 107, 107.5, 108, 108.5, 109, 109.5, 110, 110.5, 111, 111.5, 112, 112.5, 113, 113.5, 114, 114.5, 115, 115.5],
            "format": ".3f",
            "grid": true, "gridColor": "#ffc6ca", "gridDash": [11, 5], "gridWidth": 1.6,
            "ticks": false, "domain": false,
            "labelFontSize": 24, "labelColor": "#000000", "labelFont": "DejaVu Sans",
            "labelPadding": 11, "labelAlign": "left",
            "labelOverlap": false, "labelBound": false, "labelFlush": false,
            "title": null
          }
        },
        "y2": {"field": "h"},
        "stroke": {"condition": {"test": "datum.c >= datum.o", "value": "#f0102e"}, "value": "#0a3cc8"}
      }
    },
    {
      "data": {"name": "candles"},
      "mark": {"type": "bar", "orient": "vertical", "size": 17, "strokeWidth": 2, "clip": true},
      "encoding": {
        "x": {"field": "i", "type": "quantitative", "scale": {"domain": [-5.34, 94.57], "nice": false, "zero": false}, "axis": null},
        "y": {"field": "o", "type": "quantitative", "scale": {"domain": [105.61, 115.51], "nice": false, "zero": false}, "axis": null},
        "y2": {"field": "c"},
        "fill": {"condition": {"test": "datum.c >= datum.o", "value": "#ff5a66"}, "value": "#1e64ff"},
        "stroke": {"condition": {"test": "datum.c >= datum.o", "value": "#f0102e"}, "value": "#0a3cc8"}
      }
    },
    {
      "data": {"name": "kumo"},
      "mark": {"type": "area", "fillOpacity": 0.42, "clip": true, "interpolate": "linear"},
      "encoding": {
        "x": {"field": "i", "type": "quantitative", "scale": {"domain": [-5.34, 94.57], "nice": false, "zero": false}, "axis": null},
        "y": {"field": "a", "type": "quantitative", "scale": {"domain": [105.61, 115.51], "nice": false, "zero": false}, "axis": null},
        "y2": {"field": "b"},
        "fill": {"field": "kind", "type": "nominal", "scale": {"domain": ["up", "down"], "range": ["#ff7f2a", "#d2d2d2"]}, "legend": null},
        "detail": {"field": "seg", "type": "nominal"}
      }
    },
    {
      "data": {"name": "kumo"},
      "mark": {"type": "line", "stroke": "#ff2020", "strokeWidth": 2, "clip": true},
      "encoding": {
        "x": {"field": "i", "type": "quantitative", "scale": {"domain": [-5.34, 94.57], "nice": false, "zero": false}, "axis": null},
        "y": {"field": "b", "type": "quantitative", "scale": {"domain": [105.61, 115.51], "nice": false, "zero": false}, "axis": null},
        "detail": {"field": "seg", "type": "nominal"}
      }
    },
    {
      "data": {"name": "kumo"},
      "mark": {"type": "line", "stroke": "#ff7300", "strokeWidth": 2, "clip": true},
      "encoding": {
        "x": {"field": "i", "type": "quantitative", "scale": {"domain": [-5.34, 94.57], "nice": false, "zero": false}, "axis": null},
        "y": {"field": "a", "type": "quantitative", "scale": {"domain": [105.61, 115.51], "nice": false, "zero": false}, "axis": null},
        "detail": {"field": "seg", "type": "nominal"}
      }
    },
    {
      "data": {"name": "sma3"},
      "mark": {"type": "line", "stroke": "#00ee00", "strokeWidth": 4.5, "clip": true},
      "encoding": {
        "x": {"field": "i", "type": "quantitative", "scale": {"domain": [-5.34, 94.57], "nice": false, "zero": false}, "axis": null},
        "y": {"field": "v", "type": "quantitative", "scale": {"domain": [105.61, 115.51], "nice": false, "zero": false}, "axis": null}
      }
    },
    {
      "data": {"name": "sma2"},
      "mark": {"type": "line", "stroke": "#ffc800", "strokeWidth": 4.5, "strokeDash": [5, 4], "clip": true},
      "encoding": {
        "x": {"field": "i", "type": "quantitative", "scale": {"domain": [-5.34, 94.57], "nice": false, "zero": false}, "axis": null},
        "y": {"field": "v", "type": "quantitative", "scale": {"domain": [105.61, 115.51], "nice": false, "zero": false}, "axis": null}
      }
    },
    {
      "data": {"name": "sma1"},
      "mark": {"type": "line", "stroke": "#4040ff", "strokeWidth": 3.5, "strokeDash": [7, 3, 2, 3], "clip": true},
      "encoding": {
        "x": {"field": "i", "type": "quantitative", "scale": {"domain": [-5.34, 94.57], "nice": false, "zero": false}, "axis": null},
        "y": {"field": "v", "type": "quantitative", "scale": {"domain": [105.61, 115.51], "nice": false, "zero": false}, "axis": null}
      }
    },
    {
      "data": {"name": "kijun"},
      "mark": {"type": "line", "stroke": "#b000f0", "strokeWidth": 2, "clip": true},
      "encoding": {
        "x": {"field": "i", "type": "quantitative", "scale": {"domain": [-5.34, 94.57], "nice": false, "zero": false}, "axis": null},
        "y": {"field": "v", "type": "quantitative", "scale": {"domain": [105.61, 115.51], "nice": false, "zero": false}, "axis": null}
      }
    },
    {
      "data": {"name": "tenkan"},
      "mark": {"type": "line", "stroke": "#00b400", "strokeWidth": 2, "clip": true},
      "encoding": {
        "x": {"field": "i", "type": "quantitative", "scale": {"domain": [-5.34, 94.57], "nice": false, "zero": false}, "axis": null},
        "y": {"field": "v", "type": "quantitative", "scale": {"domain": [105.61, 115.51], "nice": false, "zero": false}, "axis": null}
      }
    },
    {
      "data": {"name": "chikou"},
      "mark": {"type": "line", "stroke": "#ff1ed2", "strokeWidth": 2, "clip": true},
      "encoding": {
        "x": {"field": "i", "type": "quantitative", "scale": {"domain": [-5.34, 94.57], "nice": false, "zero": false}, "axis": null},
        "y": {"field": "v", "type": "quantitative", "scale": {"domain": [105.61, 115.51], "nice": false, "zero": false}, "axis": null}
      }
    },
    {
      "data": {"name": "quote"},
      "transform": [{"filter": "datum.side == 'bid'"}],
      "mark": {"type": "rule", "stroke": "#ff8c00", "strokeWidth": 2, "clip": true},
      "encoding": {
        "x": {"datum": -5.34, "type": "quantitative", "scale": {"domain": [-5.34, 94.57], "nice": false, "zero": false}, "axis": null},
        "x2": {"datum": 85.6},
        "y": {"field": "price", "type": "quantitative", "scale": {"domain": [105.61, 115.51], "nice": false, "zero": false}, "axis": null}
      }
    },
    {
      "data": {"name": "extremes"},
      "transform": [{"filter": "datum.kind == 'high'"}],
      "mark": {"type": "text", "align": "right", "baseline": "bottom", "dy": 1, "font": "DejaVu Sans Condensed, DejaVu Sans", "fontWeight": "bold", "fontSize": 26, "fill": "#ff0a28"},
      "encoding": {
        "x": {"field": "i", "type": "quantitative", "scale": {"domain": [-5.34, 94.57], "nice": false, "zero": false}, "axis": null},
        "y": {"field": "v", "type": "quantitative", "scale": {"domain": [105.61, 115.51], "nice": false, "zero": false}, "axis": null},
        "text": {"field": "v", "type": "quantitative", "format": ".3f"}
      }
    },
    {
      "data": {"name": "extremes"},
      "transform": [{"filter": "datum.kind == 'low'"}],
      "mark": {"type": "text", "align": "right", "baseline": "top", "dy": 12, "font": "DejaVu Sans Condensed, DejaVu Sans", "fontWeight": "bold", "fontSize": 26, "fill": "#ff0a28"},
      "encoding": {
        "x": {"field": "i", "type": "quantitative", "scale": {"domain": [-5.34, 94.57], "nice": false, "zero": false}, "axis": null},
        "y": {"field": "v", "type": "quantitative", "scale": {"domain": [105.61, 115.51], "nice": false, "zero": false}, "axis": null},
        "text": {"field": "v", "type": "quantitative", "format": ".3f"}
      }
    },
    {
      "data": {"name": "quote"},
      "transform": [{"filter": "datum.side == 'ask'"}],
      "mark": {"type": "text", "align": "left", "baseline": "middle", "dy": -14, "font": "DejaVu Sans Condensed, DejaVu Sans", "fontWeight": "bold", "fontSize": 25, "fill": "#ff0a28"},
      "encoding": {
        "x": {"datum": 86.94, "type": "quantitative", "scale": {"domain": [-5.34, 94.57], "nice": false, "zero": false}, "axis": null},
        "y": {"field": "price", "type": "quantitative", "scale": {"domain": [105.61, 115.51], "nice": false, "zero": false}, "axis": null},
        "text": {"field": "price", "type": "quantitative", "format": ".3f"}
      }
    },
    {
      "data": {"name": "quote"},
      "transform": [{"filter": "datum.side == 'bid'"}],
      "mark": {"type": "text", "align": "left", "baseline": "middle", "dy": 12, "font": "DejaVu Sans Condensed, DejaVu Sans", "fontWeight": "bold", "fontSize": 25, "fill": "#1432ff"},
      "encoding": {
        "x": {"datum": 86.94, "type": "quantitative", "scale": {"domain": [-5.34, 94.57], "nice": false, "zero": false}, "axis": null},
        "y": {"field": "price", "type": "quantitative", "scale": {"domain": [105.61, 115.51], "nice": false, "zero": false}, "axis": null},
        "text": {"field": "price", "type": "quantitative", "format": ".3f"}
      }
    },
    {
      "data": {"name": "quote"},
      "transform": [{"filter": "datum.side == 'bid'"}],
      "mark": {"type": "point", "shape": "M0.55,-1L-0.55,0L0.55,1Z", "size": 400, "filled": true, "fill": "#ff0a28", "opacity": 1, "strokeWidth": 0},
      "encoding": {
        "x": {"datum": 86.21, "type": "quantitative", "scale": {"domain": [-5.34, 94.57], "nice": false, "zero": false}, "axis": null},
        "y": {"field": "price", "type": "quantitative", "scale": {"domain": [105.61, 115.51], "nice": false, "zero": false}, "axis": null}
      }
    },
    {
      "data": {"name": "panel"},
      "mark": {"type": "bar", "opacity": 0.9, "orient": "horizontal"},
      "encoding": {
        "y": {"field": "row", "type": "ordinal", "scale": {"type": "band", "domain": ["h1","o","h","l","c","h2","s1","s2","s3","h3","k","t","a","b","ch","z1","z2","z3","z4","z5","z6","z7","z8","z9","z10"], "paddingInner": 0, "paddingOuter": 0.475, "align": 0.3684211}, "axis": null},
        "x": {"datum": -4.921, "type": "quantitative", "scale": {"domain": [-5.34, 94.57], "nice": false, "zero": false}, "axis": null},
        "x2": {"datum": 9.976},
        "fill": {"condition": [{"test": "datum.kind == 'title'", "value": "#34675a"}, {"test": "datum.kind == 'header'", "value": "#487d69"}], "value": "#3b3a7d"}
      }
    },
    {
      "data": {"name": "panel"},
      "transform": [{"filter": "datum.kind == 'title' || datum.kind == 'header'"}],
      "mark": {"type": "text", "align": "left", "baseline": "middle", "fontSize": 22, "fill": "#ffffff", "font": "DejaVu Sans, Noto Sans CJK JP"},
      "encoding": {
        "y": {"field": "row", "type": "ordinal", "scale": {"type": "band", "domain": ["h1","o","h","l","c","h2","s1","s2","s3","h3","k","t","a","b","ch","z1","z2","z3","z4","z5","z6","z7","z8","z9","z10"], "paddingInner": 0, "paddingOuter": 0.475, "align": 0.3684211}, "axis": null},
        "x": {"datum": -3.943, "type": "quantitative", "scale": {"domain": [-5.34, 94.57], "nice": false, "zero": false}, "axis": null},
        "text": {"field": "label", "type": "nominal"}
      }
    },
    {
      "data": {"name": "panel"},
      "transform": [{"filter": "datum.kind == 'title' || datum.kind == 'header'"}],
      "mark": {"type": "text", "text": "-", "align": "center", "baseline": "middle", "fontSize": 22, "fill": "#ffffff", "font": "DejaVu Sans"},
      "encoding": {
        "y": {"field": "row", "type": "ordinal", "scale": {"type": "band", "domain": ["h1","o","h","l","c","h2","s1","s2","s3","h3","k","t","a","b","ch","z1","z2","z3","z4","z5","z6","z7","z8","z9","z10"], "paddingInner": 0, "paddingOuter": 0.475, "align": 0.3684211}, "axis": null},
        "x": {"datum": 6.718, "type": "quantitative", "scale": {"domain": [-5.34, 94.57], "nice": false, "zero": false}, "axis": null}
      }
    },
    {
      "data": {"name": "panel"},
      "transform": [{"filter": "datum.kind == 'title' || datum.kind == 'header'"}],
      "mark": {"type": "text", "text": "x", "align": "center", "baseline": "middle", "fontSize": 22, "fill": "#ffffff", "font": "DejaVu Sans"},
      "encoding": {
        "y": {"field": "row", "type": "ordinal", "scale": {"type": "band", "domain": ["h1","o","h","l","c","h2","s1","s2","s3","h3","k","t","a","b","ch","z1","z2","z3","z4","z5","z6","z7","z8","z9","z10"], "paddingInner": 0, "paddingOuter": 0.475, "align": 0.3684211}, "axis": null},
        "x": {"datum": 8.617, "type": "quantitative", "scale": {"domain": [-5.34, 94.57], "nice": false, "zero": false}, "axis": null}
      }
    },
    {
      "data": {"name": "panel"},
      "transform": [{"filter": "datum.kind == 'ohlc'"}],
      "mark": {"type": "text", "align": "left", "baseline": "middle", "fontSize": 21, "fill": "#ffffff", "font": "DejaVu Sans, Noto Sans CJK JP"},
      "encoding": {
        "y": {"field": "row", "type": "ordinal", "scale": {"type": "band", "domain": ["h1","o","h","l","c","h2","s1","s2","s3","h3","k","t","a","b","ch","z1","z2","z3","z4","z5","z6","z7","z8","z9","z10"], "paddingInner": 0, "paddingOuter": 0.475, "align": 0.3684211}, "axis": null},
        "x": {"datum": -2.104, "type": "quantitative", "scale": {"domain": [-5.34, 94.57], "nice": false, "zero": false}, "axis": null},
        "text": {"field": "label", "type": "nominal"}
      }
    },
    {
      "data": {"name": "panel"},
      "transform": [{"filter": "datum.kind == 'item'"}],
      "mark": {"type": "text", "align": "left", "baseline": "middle", "fontSize": 21, "fill": "#ffffff", "font": "DejaVu Sans, Noto Sans CJK JP"},
      "encoding": {
        "y": {"field": "row", "type": "ordinal", "scale": {"type": "band", "domain": ["h1","o","h","l","c","h2","s1","s2","s3","h3","k","t","a","b","ch","z1","z2","z3","z4","z5","z6","z7","z8","z9","z10"], "paddingInner": 0, "paddingOuter": 0.475, "align": 0.3684211}, "axis": null},
        "x": {"datum": -2.593, "type": "quantitative", "scale": {"domain": [-5.34, 94.57], "nice": false, "zero": false}, "axis": null},
        "text": {"field": "label", "type": "nominal"}
      }
    },
    {
      "data": {"name": "panel"},
      "transform": [{"filter": "datum.kind == 'item' || datum.kind == 'ohlc'"}],
      "mark": {"type": "text", "align": "right", "baseline": "middle", "fontSize": 21, "fill": "#ffffff", "font": "DejaVu Sans"},
      "encoding": {
        "y": {"field": "row", "type": "ordinal", "scale": {"type": "band", "domain": ["h1","o","h","l","c","h2","s1","s2","s3","h3","k","t","a","b","ch","z1","z2","z3","z4","z5","z6","z7","z8","z9","z10"], "paddingInner": 0, "paddingOuter": 0.475, "align": 0.3684211}, "axis": null},
        "x": {"datum": 9.022, "type": "quantitative", "scale": {"domain": [-5.34, 94.57], "nice": false, "zero": false}, "axis": null},
        "text": {"field": "value", "type": "nominal"}
      }
    },
    {
      "data": {"name": "panel"},
      "transform": [{"filter": "datum.kind == 'item'"}],
      "mark": {"type": "point", "shape": "square", "filled": true, "size": 56, "opacity": 1},
      "encoding": {
        "y": {"field": "row", "type": "ordinal", "scale": {"type": "band", "domain": ["h1","o","h","l","c","h2","s1","s2","s3","h3","k","t","a","b","ch","z1","z2","z3","z4","z5","z6","z7","z8","z9","z10"], "paddingInner": 0, "paddingOuter": 0.475, "align": 0.3684211}, "axis": null},
        "x": {"datum": -3.687, "type": "quantitative", "scale": {"domain": [-5.34, 94.57], "nice": false, "zero": false}, "axis": null},
        "color": {"field": "row", "type": "nominal", "scale": {"domain": ["s1","s2","s3","k","t","a","b","ch"], "range": ["#2828ff","#ffc800","#00e000","#a800f0","#00aa00","#ff7000","#ff0000","#ff10d8"]}, "legend": null}
      }
    }
  ]
}
